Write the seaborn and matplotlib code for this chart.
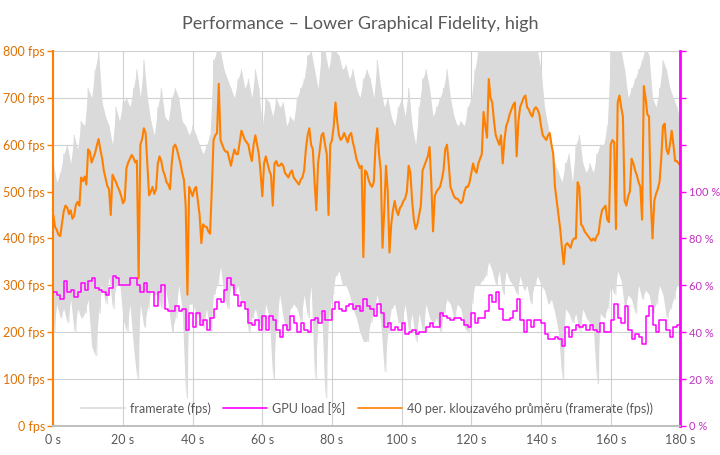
import numpy as np
import pandas as pd
import matplotlib
matplotlib.use("Agg")
import matplotlib.pyplot as plt
import seaborn as sns

# framerate (fps): upper and lower reading per second, 0..180 s
fr_hi = [560, 520, 540, 580, 600, 560, 620, 590, 650, 640,
         720, 700, 760, 800, 690, 660, 640, 600, 680, 650,
         690, 700, 680, 720, 760, 700, 780, 700, 650, 620,
         680, 720, 660, 650, 700, 720, 700, 650, 640, 620,
         640, 620, 600, 580, 600, 620, 780, 800, 800, 760,
         740, 720, 700, 740, 760, 720, 740, 700, 760, 720,
         640, 700, 690, 660, 700, 680, 690, 640, 660, 650,
         700, 720, 740, 790, 800, 760, 720, 800, 800, 760,
         800, 800, 790, 760, 770, 740, 760, 720, 700, 740,
         760, 740, 700, 780, 720, 680, 700, 660, 640, 680,
         700, 660, 720, 640, 600, 680, 740, 760, 720, 660,
         680, 700, 720, 760, 700, 660, 640, 650, 640, 680,
         700, 760, 800, 820, 820, 820, 800, 820, 820, 800,
         820, 800, 820, 820, 800, 820, 820, 810, 820, 800,
         760, 680, 640, 600, 560, 540, 520, 560, 580, 520,
         600, 620, 560, 540, 560, 540, 580, 600, 600, 640,
         800, 810, 810, 800, 760, 700, 720, 740, 760, 780,
         810, 790, 700, 680, 720, 780, 760, 720, 700, 680,
         650]
fr_lo = [200, 260, 230, 250, 220, 270, 200, 250, 230, 240,
         270, 170, 150, 240, 300, 260, 320, 250, 300, 310,
         230, 200, 260, 170, 100, 260, 210, 250, 290, 280,
         280, 250, 300, 260, 200, 230, 300, 250, 60, 260,
         260, 240, 230, 210, 250, 200, 280, 300, 340, 280,
         250, 300, 280, 300, 260, 270, 200, 230, 250, 220,
         200, 260, 230, 100, 220, 280, 230, 200, 250, 260,
         250, 220, 280, 230, 300, 100, 220, 250, 60, 230,
         280, 320, 330, 300, 300, 280, 250, 230, 200, 180,
         180, 220, 250, 280, 220, 115, 200, 250, 260, 220,
         220, 260, 200, 240, 180, 240, 200, 260, 230, 220,
         230, 200, 240, 270, 260, 230, 260, 250, 210, 200,
         260, 300, 300, 310, 320, 350, 330, 300, 330, 280,
         330, 310, 300, 280, 320, 290, 300, 260, 300, 320,
         300, 290, 260, 270, 240, 200, 100, 250, 240, 220,
         240, 200, 250, 230, 220, 210, 90, 240, 230, 250,
         300, 280, 330, 310, 250, 280, 270, 240, 300, 270,
         290, 280, 240, 260, 300, 280, 230, 250, 270, 300,
         320]

# 40-period moving average (fps), every 0.5 s
avg_fps = [450, 425, 418, 408, 405, 432, 458, 470, 466, 452, 460, 442, 448, 472, 478, 470, 530, 522, 532, 515,
           590, 585, 562, 572, 582, 598, 612, 590, 572, 545, 528, 512, 505, 450, 536, 528, 520, 510, 502, 490,
           475, 482, 550, 562, 570, 578, 572, 562, 566, 315, 600, 612, 635, 625, 560, 492, 500, 510, 495, 505,
           560, 575, 565, 545, 535, 520, 515, 505, 560, 595, 600, 590, 575, 560, 540, 525, 470, 280, 510, 500,
           490, 505, 510, 480, 450, 390, 430, 425, 425, 415, 410, 505, 610, 620, 625, 730, 610, 600, 590, 585,
           585, 570, 555, 575, 590, 580, 580, 605, 630, 620, 610, 605, 600, 580, 565, 600, 620, 600, 580, 540,
           490, 560, 575, 560, 545, 535, 470, 560, 565, 555, 555, 560, 555, 540, 535, 530, 540, 545, 530, 525,
           520, 515, 525, 530, 545, 590, 620, 635, 600, 590, 520, 460, 560, 590, 620, 625, 600, 580, 450, 600,
           610, 640, 690, 650, 620, 610, 615, 625, 615, 605, 620, 625, 605, 590, 570, 560, 550, 555, 360, 545,
           540, 525, 515, 510, 520, 600, 635, 580, 545, 380, 460, 555, 500, 370, 430, 460, 480, 460, 450, 465,
           470, 480, 485, 500, 555, 540, 480, 440, 420, 430, 450, 470, 545, 555, 565, 575, 595, 520, 415, 490,
           500, 505, 510, 525, 545, 590, 600, 560, 510, 500, 490, 485, 485, 480, 475, 480, 500, 510, 510, 520,
           540, 560, 545, 540, 560, 570, 580, 670, 640, 615, 740, 700, 690, 650, 620, 610, 600, 620, 560, 610,
           640, 650, 665, 675, 685, 690, 575, 650, 680, 690, 700, 705, 680, 675, 665, 660, 675, 680, 675, 665,
           640, 620, 615, 610, 620, 625, 600, 580, 510, 480, 450, 420, 380, 345, 385, 390, 385, 380, 395, 400,
           400, 520, 510, 430, 425, 415, 410, 405, 400, 395, 400, 395, 405, 410, 440, 460, 465, 470, 440, 435,
           600, 610, 605, 420, 690, 705, 680, 660, 480, 470, 490, 500, 570, 560, 545, 535, 520, 510, 440, 725,
           700, 665, 660, 480, 400, 480, 495, 505, 520, 570, 640, 645, 590, 580, 600, 630, 600, 565, 565, 560,
           555]

# GPU load (%), one step per second
gpu_load = [57, 56, 54, 62, 57, 58, 55, 57, 61, 58,
            62, 63, 59, 58, 57, 56, 59, 64, 63, 60,
            60, 60, 63, 63, 60, 57, 61, 57, 57, 51,
            57, 60, 50, 49, 49, 51, 49, 50, 41, 48,
            42, 48, 43, 45, 41, 46, 50, 54, 53, 58,
            63, 60, 56, 51, 53, 50, 44, 43, 45, 41,
            47, 41, 47, 45, 41, 38, 43, 41, 47, 44,
            40, 44, 41, 40, 45, 46, 44, 49, 45, 45,
            50, 53, 50, 49, 51, 52, 50, 51, 49, 54,
            51, 50, 47, 52, 48, 42, 44, 41, 42, 41,
            44, 39, 40, 41, 39, 40, 40, 42, 44, 42,
            42, 48, 47, 46, 45, 46, 46, 45, 43, 42,
            48, 44, 46, 46, 49, 56, 53, 57, 50, 45,
            45, 46, 49, 54, 45, 40, 45, 42, 45, 45,
            44, 39, 37, 37, 38, 37, 34, 42, 38, 41,
            43, 42, 43, 41, 43, 41, 40, 44, 40, 40,
            45, 52, 46, 44, 51, 41, 37, 39, 38, 35,
            47, 51, 43, 40, 45, 45, 41, 38, 42, 43,
            43]

fps_ticks = [0, 100, 200, 300, 400, 500, 600, 700, 800]
pct_ticks = [0, 20, 40, 60, 80, 100, 120, 140, 160]
time_ticks = [0, 20, 40, 60, 80, 100, 120, 140, 160, 180]

# gray series: hi and lo readings alternate every half second
fr_vals = []
for h, l in zip(fr_hi, fr_lo):
    fr_vals += [h, l]
fr_df = pd.DataFrame({"t": np.arange(len(fr_vals)) * 0.5, "fps": fr_vals})
band_t = np.arange(len(fr_hi)) * 1.0
avg_df = pd.DataFrame({"t": np.arange(len(avg_fps)) * 0.5, "fps": avg_fps})
gpu_df = pd.DataFrame({"t": np.arange(len(gpu_load)) * 1.0, "load": gpu_load})

sns.set_theme(style="white")
plt.rcParams["font.family"] = ["Lato", "DejaVu Sans"]

ORANGE = "#FF8000"
MAGENTA = "#FF00FF"
GRAY_TXT = "#595959"
GRAY_FR = "#DADADA"

fig = plt.figure(figsize=(7.2, 4.55), dpi=100)
ax = fig.add_axes([0.074, 0.064, 0.871, 0.824])

# dense framerate band + the spiky trace itself
ax.fill_between(band_t, fr_lo, fr_hi, color=GRAY_FR, lw=0)
sns.lineplot(data=fr_df, x="t", y="fps", ax=ax, color=GRAY_FR, lw=0.7,
             label="framerate (fps)", legend=False)
sns.lineplot(data=avg_df, x="t", y="fps", ax=ax, color=ORANGE, lw=1.5,
             label="40 per. klouzavého průměru (framerate (fps))", legend=False)

ax2 = ax.twinx()
sns.lineplot(data=gpu_df, x="t", y="load", ax=ax2, color=MAGENTA, lw=1.1,
             drawstyle="steps-post", label="GPU load [%]", legend=False)

ax.set_xlim(0, 180)
ax.set_ylim(0, 800)
ax2.set_ylim(0, 160)
ax.set_xticks(time_ticks)
ax.set_xticklabels([f"{t} s" for t in time_ticks])
ax.set_yticks(fps_ticks)
ax.set_yticklabels([f"{v} fps" for v in fps_ticks])
ax2.set_yticks(pct_ticks)
ax2.set_yticklabels([f"{v} %" if v <= 100 else "" for v in pct_ticks])

ax.grid(True, color="#D0D0D0", lw=0.8)
ax.set_axisbelow(True)
ax.set_xlabel("")
ax.set_ylabel("")
ax2.set_ylabel("")

for a in (ax, ax2):
    a.spines["top"].set_visible(False)
    a.spines["bottom"].set_color("#BFBFBF")
ax.spines["right"].set_visible(False)
ax.spines["left"].set_color(ORANGE)
ax.spines["left"].set_linewidth(1.5)
ax2.spines["left"].set_visible(False)
ax2.spines["right"].set_color(MAGENTA)
ax2.spines["right"].set_linewidth(2)

ax.tick_params(axis="x", colors=GRAY_TXT, labelsize=9, length=0, pad=6)
ax.tick_params(axis="y", colors=ORANGE, labelcolor="#E07000", labelsize=9,
               length=4, width=1, left=True, direction="out", pad=2)
ax2.tick_params(axis="y", colors=MAGENTA, labelcolor="#C030C0", labelsize=8,
                length=4, width=1, right=True, direction="out", pad=2)

h1, l1 = ax.get_legend_handles_labels()
h2, l2 = ax2.get_legend_handles_labels()
handles = [h1[0], h2[0], h1[1]]
labels = [l1[0], l2[0], l1[1]]
leg = ax2.legend(handles, labels, loc="lower center", bbox_to_anchor=(0.5, 0.0),
                 ncol=3, frameon=False, fontsize=9, handlelength=3.5,
                 columnspacing=1.0, handletextpad=0.4)
for line in leg.get_lines():
    line.set_linewidth(1.2)
for txt in leg.get_texts():
    txt.set_color(GRAY_TXT)

fig.suptitle("Performance – Lower Graphical Fidelity, high", x=0.5, y=0.965,
             fontsize=13, color=GRAY_TXT)

fig.savefig("out.png", dpi=100)
